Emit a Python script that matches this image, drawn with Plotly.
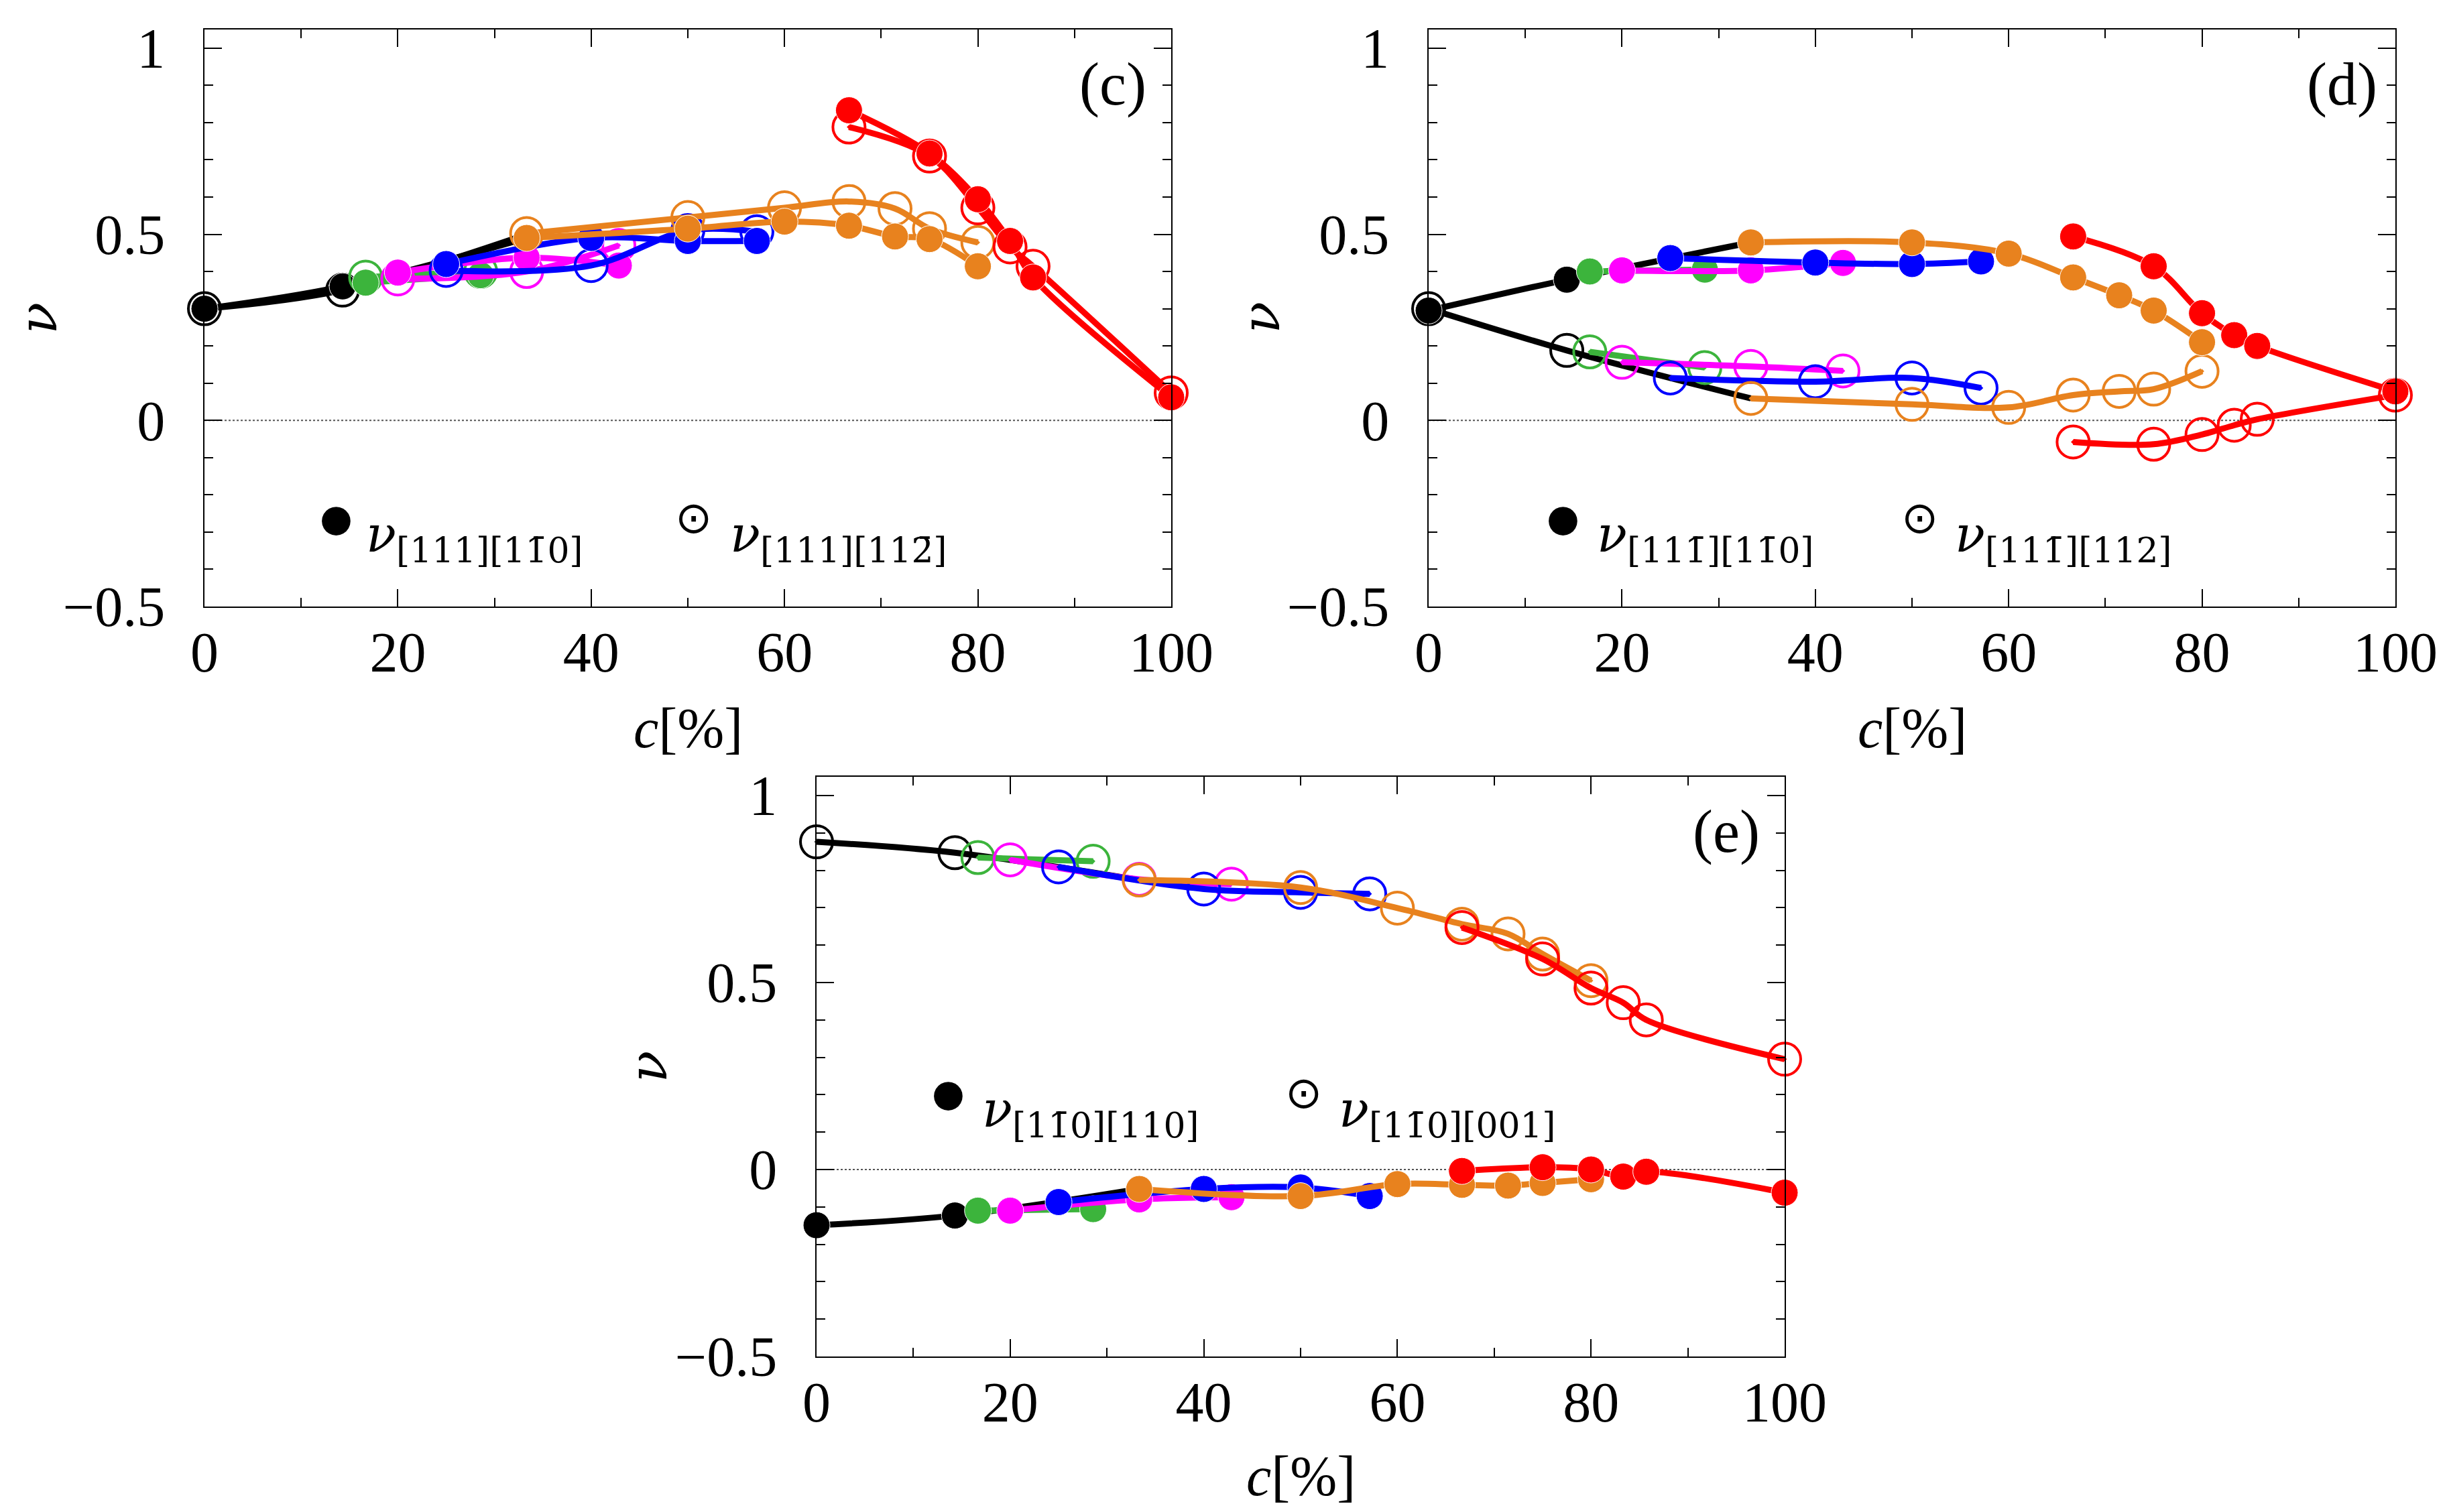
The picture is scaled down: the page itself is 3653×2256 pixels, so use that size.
import plotly.graph_objects as go

# ---------------- data ----------------
C_BLACK = [0, 14.29, 33.33]
C_GREEN = [16.67, 28.57]
C_MAGENTA = [20, 33.33, 42.86]
C_BLUE = [25, 40, 50, 57.14]
C_ORANGE = [33.33, 50, 60, 66.67, 71.43, 75, 80]
C_RED = [66.67, 75, 80, 83.33, 85.71, 100]

# panel (c): nu_[111][1-10] (filled) and nu_[111][11-2] (open)
c_fill = {
    "black": [0.30, 0.36, 0.49],
    "green": [0.37, 0.39],
    "magenta": [0.397, 0.437, 0.416],
    "blue": [0.42, 0.49, 0.482, 0.482],
    "orange": [0.49, 0.515, 0.534, 0.523, 0.494, 0.487, 0.414],
    "red": [0.833, 0.717, 0.594, 0.482, 0.384, 0.062],
}
c_open = {
    "black": [0.30, 0.35, 0.50],
    "green": [0.385, 0.40],
    "magenta": [0.38, 0.40, 0.47],
    "blue": [0.403, 0.416, 0.51, 0.507],
    "orange": [0.502, 0.545, 0.571, 0.588, 0.569, 0.515, 0.478],
    "red": [0.788, 0.71, 0.571, 0.466, 0.414, 0.074],
}
# panel (d): nu_[11-1][1-10] (filled) and nu_[11-1][112] (open)
d_fill = {
    "black": [0.295, 0.378, 0.478],
    "green": [0.40, 0.405],
    "magenta": [0.403, 0.403, 0.423],
    "blue": [0.436, 0.424, 0.42, 0.427],
    "orange": [0.478, 0.478, 0.448, 0.384, 0.336, 0.295, 0.21],
    "red": [0.494, 0.414, 0.288, 0.229, 0.20, 0.078],
}
d_open = {
    "black": [0.30, 0.188, 0.059],
    "green": [0.184, 0.142],
    "magenta": [0.156, 0.145, 0.133],
    "blue": [0.114, 0.104, 0.114, 0.087],
    "orange": [0.059, 0.043, 0.035, 0.068, 0.078, 0.084, 0.132],
    "red": [-0.058, -0.064, -0.038, -0.013, 0.003, 0.068],
}
# panel (e): nu_[1-10][110] (filled) and nu_[1-10][001] (open)
e_fill = {
    "black": [-0.149, -0.123, -0.052],
    "green": [-0.11, -0.106],
    "magenta": [-0.11, -0.08, -0.074],
    "blue": [-0.087, -0.052, -0.048, -0.071],
    "orange": [-0.052, -0.071, -0.039, -0.041, -0.043, -0.036, -0.026],
    "red": [-0.004, 0.006, 0.0, -0.019, -0.006, -0.062],
}
e_open = {
    "black": [0.876, 0.847, 0.774],
    "green": [0.834, 0.824],
    "magenta": [0.828, 0.776, 0.763],
    "blue": [0.809, 0.75, 0.741, 0.737],
    "orange": [0.774, 0.754, 0.699, 0.656, 0.63, 0.576, 0.505],
    "red": [0.647, 0.563, 0.485, 0.446, 0.40, 0.295],
}

X_TICKS = [0, 20, 40, 60, 80, 100]
Y_TICKS = [-0.5, 0, 0.5, 1]
Y_TICK_TEXT = ["\u22120.5", "0", "0.5", "1"]
PANEL_LABELS = ["(c)", "(d)", "(e)"]
LEG_FILL = ["<i>ν</i><sub>[111][11\u03040]</sub>",
            "<i>ν</i><sub>[111\u0304][11\u03040]</sub>",
            "<i>ν</i><sub>[11\u03040][110]</sub>"]
LEG_OPEN = ["<i>ν</i><sub>[111][112\u0304]</sub>",
            "<i>ν</i><sub>[111\u0304][112]</sub>",
            "<i>ν</i><sub>[11\u03040][001]</sub>"]

# ---------------- style ----------------
COLORS = {"black": "#000000", "green": "#3CB43C", "magenta": "#FF00FF",
          "blue": "#0000FF", "orange": "#E8821E", "red": "#FF0000"}
XS = {"black": C_BLACK, "green": C_GREEN, "magenta": C_MAGENTA,
      "blue": C_BLUE, "orange": C_ORANGE, "red": C_RED}
FONT = "Liberation Serif"
NUFONT = "DejaVu Serif"
FS = 84
W, H = 3653, 2256

fig = go.Figure()

panels = [
    (c_fill, c_open, "x", "y"),
    (d_fill, d_open, "x2", "y2"),
    (e_fill, e_open, "x3", "y3"),
]

def sizes(name, n, s):
    if name == "black":
        return [s] * (n - 1) + [0]
    return [s] * n

for fill, opn, xa, ya in panels:
    for name in ["black", "green", "magenta", "blue", "orange", "red"]:
        col = COLORS[name]
        xs = XS[name]
        fig.add_trace(go.Scatter(
            x=xs, y=opn[name], xaxis=xa, yaxis=ya, mode="lines+markers",
            line=dict(color=col, width=9, shape="spline", smoothing=1.0),
            marker=dict(symbol="circle-open-dot", size=sizes(name, len(xs), 48),
                        color=col, opacity=1, line=dict(color=col, width=4)),
            cliponaxis=False, showlegend=False, hoverinfo="skip"))
        fig.add_trace(go.Scatter(
            x=xs, y=fill[name], xaxis=xa, yaxis=ya, mode="lines+markers",
            line=dict(color=col, width=9, shape="spline", smoothing=1.0),
            marker=dict(symbol="circle", size=sizes(name, len(xs), 40), color=col,
                        opacity=1),
            cliponaxis=False, showlegend=False, hoverinfo="skip"))

# domains (paper fractions), from pixel frame edges
DOM = [
    ((297 / W, 1739 / W), (1 - 897 / H, 1 - 36 / H)),
    ((2123 / W, 3565 / W), (1 - 897 / H, 1 - 36 / H)),
    ((1210 / W, 2654 / W), (1 - 2016 / H, 1 - 1151 / H)),
]

axis_common = dict(
    showline=True, linecolor="black", linewidth=2, mirror="allticks",
    ticks="inside", tickwidth=2, ticklen=26, tickcolor="black",
    showgrid=False, zeroline=False, automargin=False,
    ticklabeloverflow="allow",
    tickfont=dict(family=FONT, size=FS, color="black"),
)

layout_axes = {}
for i, ((xd, yd)) in enumerate(DOM):
    sfx = "" if i == 0 else str(i + 1)
    layout_axes["xaxis" + sfx] = dict(
        axis_common, domain=list(xd), range=[0, 100], anchor="y" + sfx,
        tickvals=X_TICKS, ticktext=[str(v) for v in X_TICKS],
        minor=dict(dtick=10, tick0=0, ticks="inside", ticklen=13, tickwidth=2,
                   tickcolor="black", showgrid=False),
        ticklabelstandoff=-6)
    layout_axes["yaxis" + sfx] = dict(
        axis_common, domain=list(yd), range=[-0.5, 1.05], anchor="x" + sfx,
        tickvals=Y_TICKS, ticktext=Y_TICK_TEXT,
        minor=dict(dtick=0.1, tick0=0, ticks="inside", ticklen=13, tickwidth=2,
                   tickcolor="black", showgrid=False),
        ticklabelstandoff=40)

fig.update_layout(**layout_axes)

annotations = []
shapes = []
# (filled symbol x, filled text x, open symbol x, open text x, legend y)
leg_pos = [
    (0.136, 0.166, 0.506, 0.542, 0.154),
    (0.139, 0.173, 0.508, 0.543, 0.154),
    (0.136, 0.170, 0.503, 0.538, 0.455),
]
lab_x = [0.940, 0.945, 0.940]
nu_x = [-0.172, -0.174, -0.174]
ct_y = [-0.211, -0.211, -0.206]
for i in range(3):
    sfx = "" if i == 0 else str(i + 1)
    xr, yr = "x" + sfx + " domain", "y" + sfx + " domain"
    # zero line (dotted)
    shapes.append(dict(type="line", xref=xr, yref="y" + sfx, x0=0, x1=1, y0=0, y1=0,
                       line=dict(color="#555555", width=2, dash="dot"), layer="below"))
    # panel label
    annotations.append(dict(text=PANEL_LABELS[i], xref=xr, yref=yr, x=lab_x[i], y=0.905,
                            xanchor="center", yanchor="middle", showarrow=False,
                            font=dict(family=FONT, size=90, color="black")))
    # axis titles
    annotations.append(dict(text="<i>c</i>[%]", xref=xr, yref=yr, x=0.5, y=ct_y[i],
                            xanchor="center", yanchor="middle", showarrow=False,
                            font=dict(family=FONT, size=FS, color="black")))
    annotations.append(dict(text="<i>ν</i>", xref=xr, yref=yr, x=nu_x[i], y=0.5,
                            xanchor="center", yanchor="middle", showarrow=False,
                            textangle=-90,
                            font=dict(family=NUFONT, size=78, color="black")))
    # legend
    sx1, tx1, sx2, tx2, ly = leg_pos[i]
    annotations.append(dict(text="\u25CF", xref=xr, yref=yr, x=sx1, y=ly,
                            xanchor="center", yanchor="middle", showarrow=False,
                            font=dict(family="DejaVu Sans", size=56, color="black")))
    annotations.append(dict(text="\u2299", xref=xr, yref=yr, x=sx2, y=ly,
                            xanchor="center", yanchor="middle", showarrow=False,
                            font=dict(family="DejaVu Sans", size=66, color="black")))
    annotations.append(dict(text=LEG_FILL[i], xref=xr, yref=yr, x=tx1, y=ly - 0.035,
                            xanchor="left", yanchor="middle", showarrow=False,
                            font=dict(family=NUFONT, size=74, color="black")))
    annotations.append(dict(text=LEG_OPEN[i], xref=xr, yref=yr, x=tx2, y=ly - 0.035,
                            xanchor="left", yanchor="middle", showarrow=False,
                            font=dict(family=NUFONT, size=74, color="black")))

fig.update_layout(
    width=W, height=H, margin=dict(l=0, r=0, t=0, b=0, autoexpand=False),
    plot_bgcolor="white", paper_bgcolor="white",
    annotations=annotations, shapes=shapes, showlegend=False,
    font=dict(family=FONT, size=FS, color="black"),
)

fig.write_html("out.html")
